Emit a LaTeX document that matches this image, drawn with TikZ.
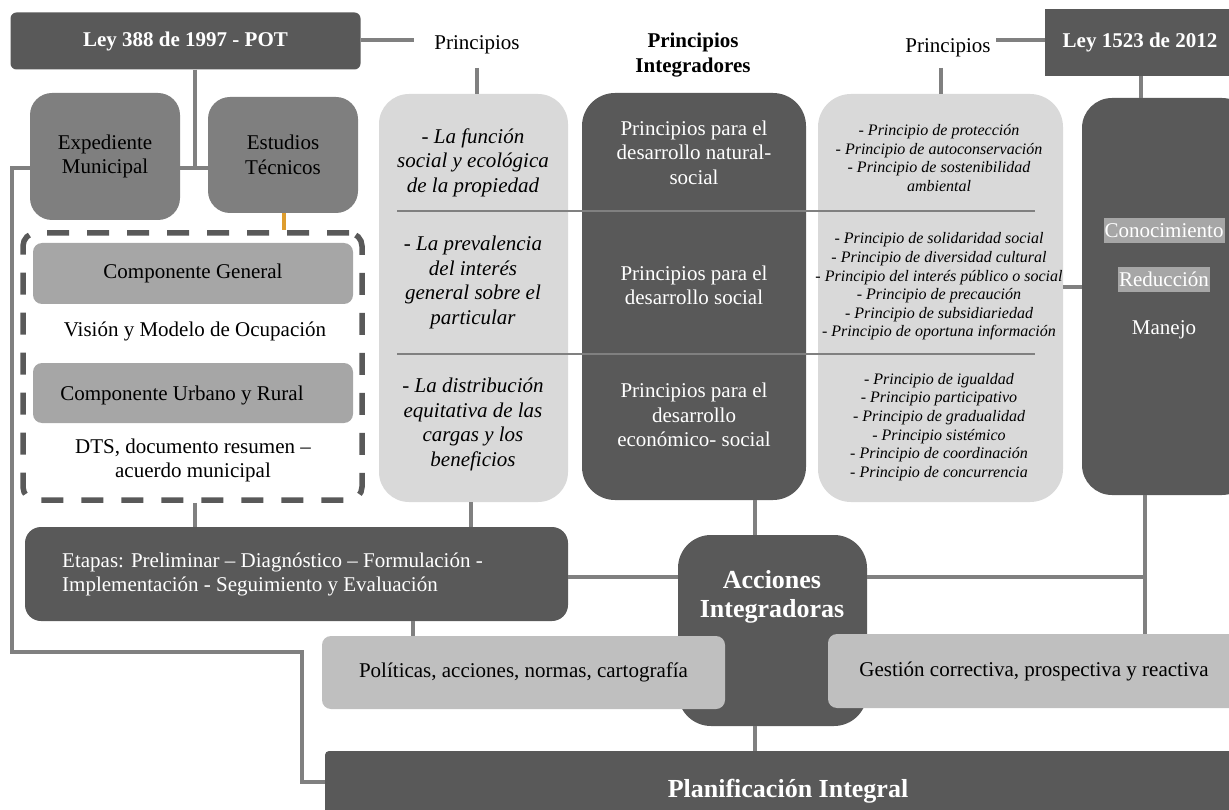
\documentclass[tikz,border=0pt]{standalone}
\usepackage{fontspec}
\setmainfont{Liberation Serif}
\definecolor{dk}{HTML}{595959}
\definecolor{md}{HTML}{7F7F7F}
\definecolor{cp}{HTML}{A6A6A6}
\definecolor{lt}{HTML}{D9D9D9}
\definecolor{pl}{HTML}{BFBFBF}
\definecolor{ln}{HTML}{808080}
\definecolor{og}{HTML}{DE9D2E}
\begin{document}
\begin{tikzpicture}[x=1pt,y=-1pt,
  fnorm/.style={font=\fontsize{21}{24.5}\selectfont},
  fbold/.style={font=\fontsize{21}{24.5}\selectfont\bfseries},
  fital/.style={font=\fontsize{21}{24.5}\selectfont\itshape},
  fsmall/.style={font=\fontsize{16}{18.6}\selectfont\itshape},
  fbig/.style={font=\fontsize{26}{29}\selectfont\bfseries},
  shp/.style={inner sep=0pt, draw=none},
  darkbox/.style={shp, fill=dk, text=white},
  medbox/.style={shp, fill=md, text=black},
  compbox/.style={shp, fill=cp, text=black},
  lightbox/.style={shp, fill=lt, text=black},
  polbox/.style={shp, fill=pl, text=black},
  dashbox/.style={draw=dk, line width=5.5, dash pattern=on 22pt off 18pt, rounded corners=13, inner sep=0pt},
  hl/.style={fill=cp, text=white, inner xsep=1pt, inner ysep=0pt, minimum height=25},
  conn/.style={draw=ln, line width=4},
  sepline/.style={draw=ln, line width=1.5},
  ogline/.style={draw=og, line width=4}
]
\useasboundingbox (0,0) rectangle (1229,810);

% top row
\node[darkbox, fbold, rounded corners=6, minimum width=350, minimum height=57] (ley388) at (185.5,41) {Ley 388 de 1997 - POT};
\node[fnorm] (pr1) at (477,45) {Principios};
\node[fbold, align=center] (pint) at (693,55) {Principios\\Integradores};
\node[fnorm] (pr2) at (948,48) {Principios};
\node[darkbox, fbold, minimum width=190, minimum height=67] (ley1523) at (1140,42.5) {Ley 1523 de 2012};

% left column
\node[medbox, fnorm, align=center, rounded corners=22, minimum width=150, minimum height=127] (exped) at (105,156.5) {Expediente\\Municipal};
\node[medbox, fnorm, align=center, rounded corners=22, minimum width=150, minimum height=116] (estud) at (283,155) {Estudios\\Técnicos};
\node[dashbox, minimum width=339, minimum height=267] (dbox) at (192.5,366.5) {};
\node[compbox, fnorm, rounded corners=9, minimum width=320, minimum height=61] (cgen) at (193,273.5) {Componente General};
\node[fnorm] (vision) at (195,331) {Visión y Modelo de Ocupación};
\node[compbox, rounded corners=9, minimum width=320, minimum height=60] (curb) at (193,393) {};
\node[fnorm] (curbt) at (182,395) {Componente Urbano y Rural};
\node[fnorm, align=center] (dts) at (193,460.5) {DTS, documento resumen –\\acuerdo municipal};

% principle columns
\node[lightbox, rounded corners=30, minimum width=189, minimum height=408] (lbox) at (473.5,298) {};
\node[darkbox, rounded corners=33, minimum width=224, minimum height=407] (mbox) at (694,296.5) {};
\node[lightbox, rounded corners=33, minimum width=245, minimum height=408] (rlight) at (940.5,298) {};
\node[darkbox, rounded corners=30, minimum width=170, minimum height=397] (rdark) at (1167,296.5) {};

\draw[sepline] (397,211) -- (1035,211);
\draw[sepline] (397,354) -- (1035,354);

\node[fital, align=center] (l1) at (473,162.5) {- La función\\social y ecológica\\de la propiedad};
\node[fital, align=center] (l2) at (473,282.5) {- La prevalencia\\del interés\\general sobre el\\particular};
\node[fital, align=center] (l3) at (473,424.5) {- La distribución\\equitativa de las\\cargas y los\\beneficios};

\node[fnorm, text=white, align=center] (m1) at (694,152.5) {Principios para el\\desarrollo natural-\\social};
\node[fnorm, text=white, align=center] (m2) at (694,285.5) {Principios para el\\desarrollo social};
\node[fnorm, text=white, align=center] (m3) at (694,415) {Principios para el\\desarrollo\\económico- social};

\node[fsmall, align=center] (r1) at (939,158) {- Principio de protección\\- Principio de autoconservación\\- Principio de sostenibilidad\\ambiental};
\node[fsmall, align=center] (r2) at (939,286.5) {- Principio de solidaridad social\\- Principio de diversidad cultural\\- Principio del interés público o social\\- Principio de precaución\\- Principio de subsidiariedad\\- Principio de oportuna información};
\node[fsmall, align=center] (r3) at (939,427) {- Principio de igualdad\\- Principio participativo\\- Principio de gradualidad\\- Principio sistémico\\- Principio de coordinación\\- Principio de concurrencia};

\node[hl, fnorm] (k1) at (1164,230.5) {Conocimiento};
\node[hl, fnorm] (k2) at (1164,279.5) {Reducción};
\node[fnorm, text=white] (k3) at (1164,330) {Manejo};

% bottom part
\node[darkbox, rounded corners=16, minimum width=543, minimum height=94] (etapas) at (296.5,574) {};
\node[fnorm, text=white, align=left, anchor=west, inner sep=0pt] (etapast) at (62,574.5) {Etapas: Preliminar – Diagnóstico – Formulación -\\Implementación - Seguimiento y Evaluación};
\node[darkbox, rounded corners=33, minimum width=189, minimum height=191] (acc) at (772.5,630.5) {};
\node[fbig, text=white, align=center] (acct) at (772,597) {Acciones\\Integradoras};
\node[polbox, fnorm, rounded corners=9, minimum width=403, minimum height=73] (pol) at (523.5,672.5) {Políticas, acciones, normas, cartografía};
\node[polbox, fnorm, rounded corners=9, minimum width=412, minimum height=74] (gest) at (1034,671) {Gestión correctiva, prospectiva y reactiva};
\node[darkbox, rounded corners=4, minimum width=915, minimum height=79] (plan) at (782.5,790.5) {};
\node[fbig, text=white] (plant) at (788,791) {Planificación Integral};

% connector points
\coordinate (p1in) at (414,40);
\coordinate (p1out) at (477,68);
\coordinate (lj) at (195,168);
\coordinate (lp) at (302,782);
\coordinate (oj) at (284,0);
\coordinate (dj) at (195,0);
\coordinate (lbj) at (471,0);
\coordinate (mj) at (755,577);
\coordinate (ej) at (413,0);
\coordinate (rj) at (1145,577);
\coordinate (p2in) at (996,40);
\coordinate (p2out) at (941,68);
\coordinate (lj2) at (1141,0);
\coordinate (rr) at (0,287);

% connectors
\draw[conn] (ley388.east |- p1in) -- (p1in);
\draw[conn] (p1out) -- (p1out |- lbox.north);
\draw[conn] (lj |- ley388.south) -- (lj);
\draw[conn] (exped.east |- lj) -- (estud.west |- lj);
\draw[conn] (exped.west |- lj) -- (12,168) -- (12,652) -- (302,652) -- (lp) -- (lp -| plan.west);
\draw[ogline] (estud.south -| oj) -- (dbox.north -| oj);
\draw[conn] (dbox.south -| dj) -- (etapas.north -| dj);
\draw[conn] (lbox.south -| lbj) -- (etapas.north -| lbj);
\draw[conn] (mbox.south -| mj) -- (acc.north -| mj);
\draw[conn] (etapas.east |- mj) -- (acc.west |- mj);
\draw[conn] (etapas.south -| ej) -- (pol.north -| ej);
\draw[conn] (acc.south -| mj) -- (plan.north -| mj);
\draw[conn] (acc.east |- rj) -- (rj);
\draw[conn] (rdark.south -| rj) -- (gest.north -| rj);
\draw[conn] (p2in) -- (p2in -| ley1523.west);
\draw[conn] (p2out) -- (p2out |- rlight.north);
\draw[conn] (ley1523.south -| lj2) -- (rdark.north -| lj2);
\draw[conn] (rlight.east |- rr) -- (rdark.west |- rr);
\end{tikzpicture}
\end{document}
